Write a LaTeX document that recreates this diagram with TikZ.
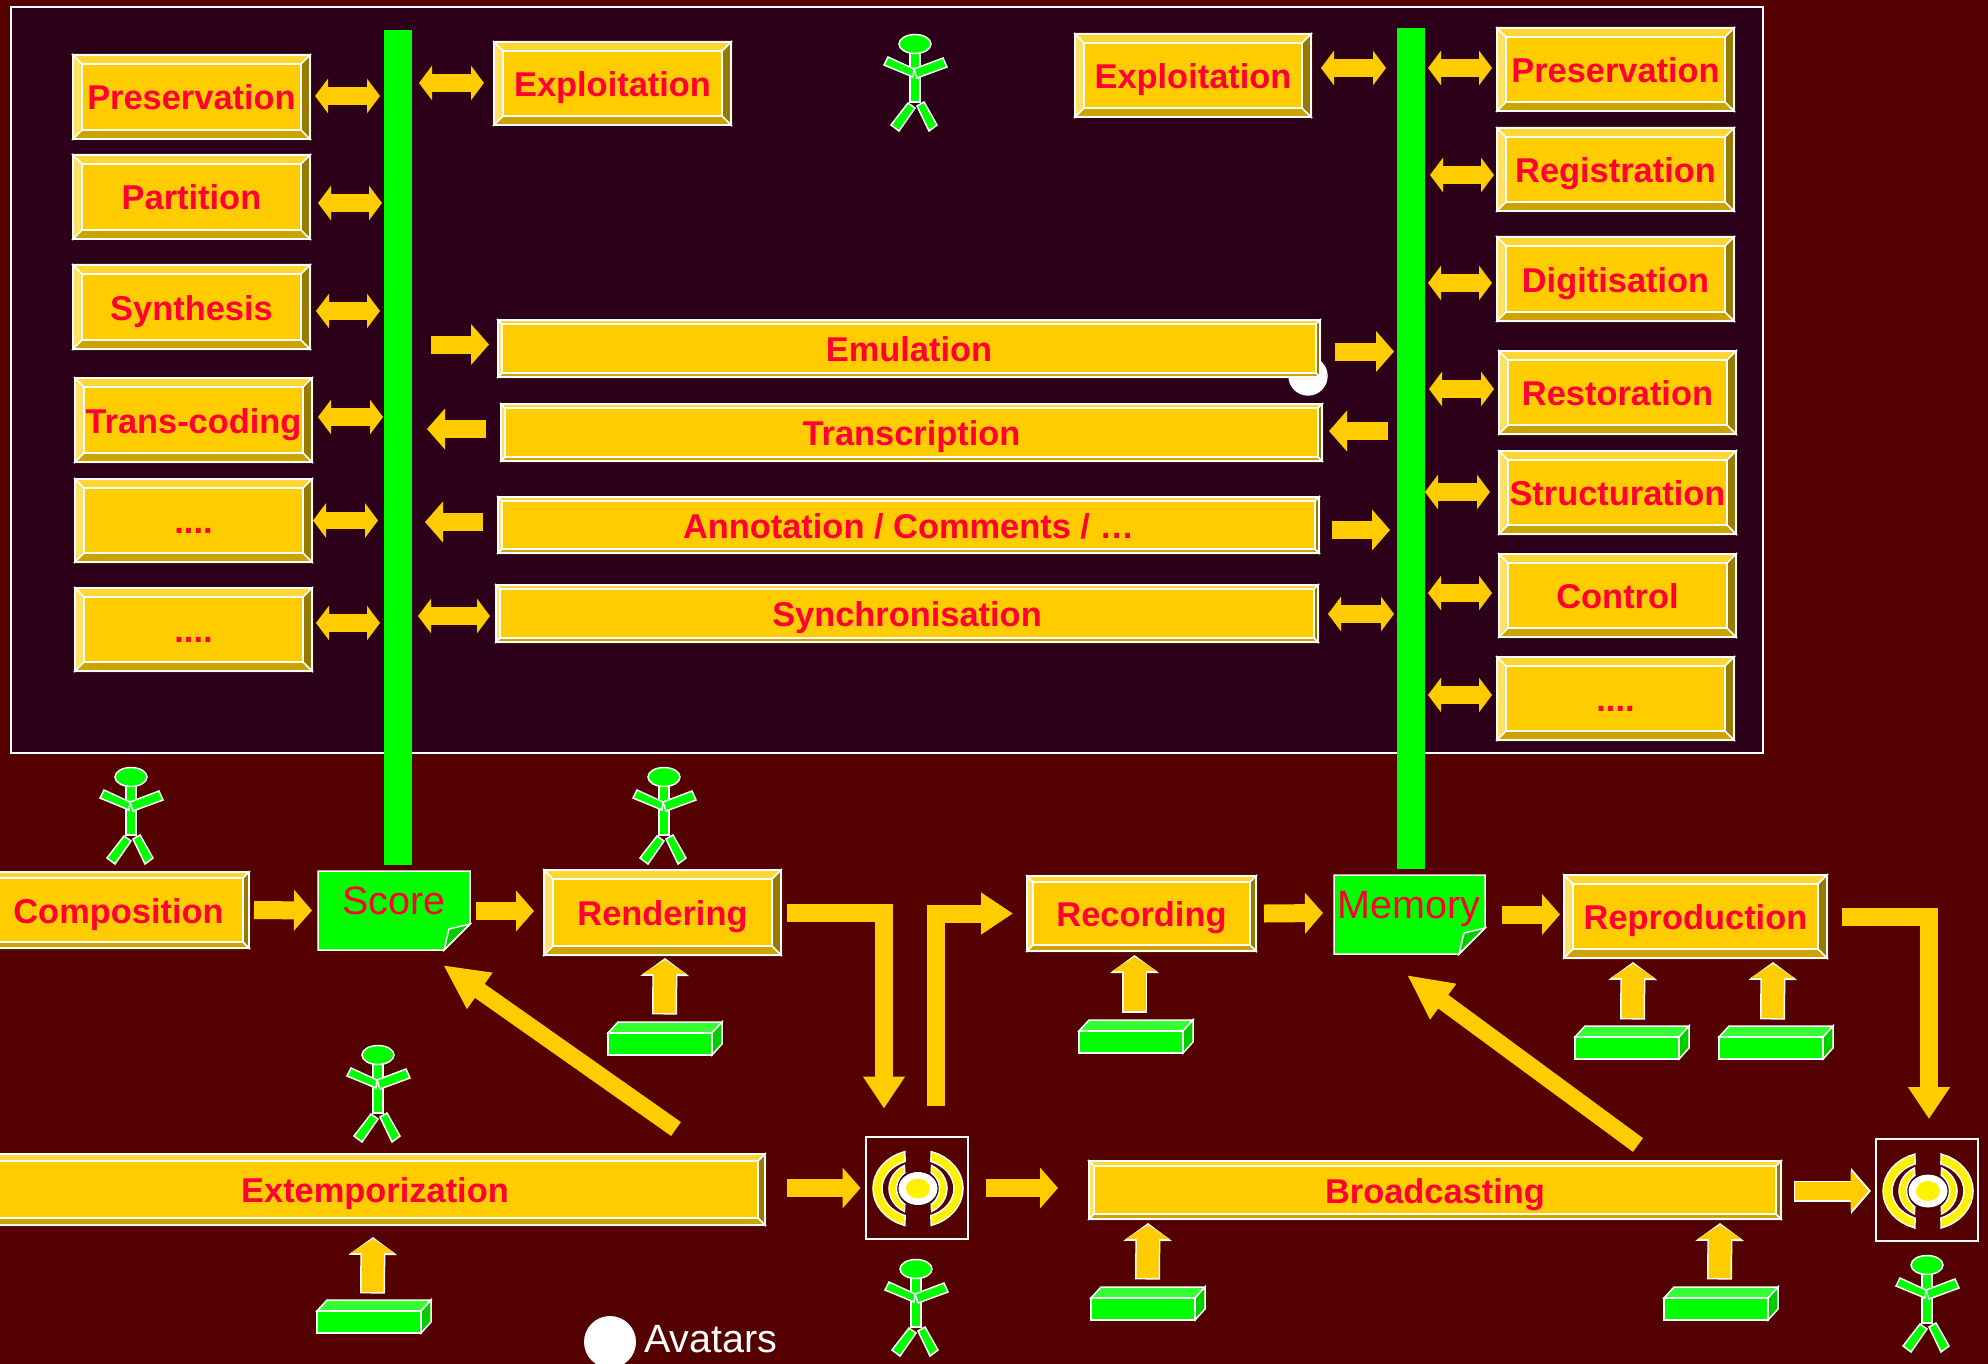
\documentclass[tikz,border=0pt]{standalone}
\usepackage{fontspec}
\setmainfont{Liberation Sans}
\usetikzlibrary{arrows.meta}
\usetikzlibrary{positioning}

\definecolor{bgred}{HTML}{540000}
\definecolor{panelbg}{HTML}{2D0019}
\definecolor{gold}{HTML}{FFCC00}
\definecolor{goldtop}{HTML}{FFD633}
\definecolor{goldleft}{HTML}{FFE066}
\definecolor{goldright}{HTML}{997A00}
\definecolor{goldlow}{HTML}{CCA300}
\definecolor{txtred}{HTML}{FF0033}
\definecolor{limeg}{HTML}{00FF00}
\definecolor{limetop}{HTML}{33FF33}
\definecolor{limedark}{HTML}{00CC00}

\tikzset{
  boxlabel/.style={inner sep=0pt,outer sep=0pt,text=txtred,text height=26pt,text depth=0pt,
    font=\fontsize{34.4pt}{36pt}\selectfont\bfseries},
  notelabel/.style={inner sep=0pt,text=txtred,font=\fontsize{39.5pt}{41pt}\selectfont},
  thinwhite/.style={draw=white,line width=1.5pt,line join=miter},
  singlearrow/.style={draw=gold,line width=18pt,-{Triangle[length=18pt,width=40pt]}},
  biarrow/.style={draw=gold,line width=17.5pt,{Triangle[length=13pt,width=34pt]}-{Triangle[length=13pt,width=34pt]}},
  elbowarrow/.style={draw=gold,line width=18pt,line join=miter,-{Triangle[length=32pt,width=40pt]}},
  diagarrow/.style={draw=gold,line width=17pt,-{Triangle[length=45pt,width=41pt]}},
  uparrow/.style={preaction={draw=white,line width=25pt,shorten <=-1.5pt,shorten >=-2pt,-{Triangle[length=18pt,width=48pt]}},
    draw=gold,line width=22pt,-{Triangle[length=14pt,width=44pt]}},
  sidearrow/.style={preaction={draw=white,line width=21pt,shorten <=-1.5pt,shorten >=-2.5pt,-{Triangle[length=20pt,width=45pt]}},
    draw=gold,line width=18pt,-{Triangle[length=18pt,width=40pt]}},
  stickman/.pic={
    \filldraw[thinwhite,fill=limeg] (-5,9) rectangle (5,58);
    \filldraw[thinwhite,fill=limeg] (-27,13) -- (-31,21) -- (-2,33) -- (-1,25) -- cycle;
    \filldraw[thinwhite,fill=limeg] (28,14) -- (32,23) -- (2,34) -- (-1,25) -- cycle;
    \filldraw[thinwhite,fill=limeg] (-7,59) -- (0,64) -- (-16,87) -- (-24,81) -- cycle;
    \filldraw[thinwhite,fill=limeg] (2,62) -- (9,58) -- (22,81) -- (14,87) -- cycle;
    \filldraw[thinwhite,fill=limeg] (0,0) ellipse [x radius=16,y radius=9.5];
  },
  soundwaves/.pic={
    \filldraw[draw=white,line width=1pt,fill=white] (1.5,1) ellipse [x radius=19,y radius=16];
    \draw[panelbg,line width=.8pt] (1.5,1) ellipse [x radius=20.5,y radius=17.5];
    \fill[yellow] (1.5,1) ellipse [x radius=12,y radius=10];
    \foreach \s in {1,-1}{
      \filldraw[thinwhite,fill=yellow,xshift=1.5pt,yshift=-1pt] plot[domain=107:253,samples=17] ({\s*45*cos(\x)},{38.6*sin(\x)})
        -- plot[domain=249:111,samples=17] ({\s*36*cos(\x)},{29*sin(\x)}) -- cycle;
      \filldraw[thinwhite,fill=yellow,xshift=1.5pt,yshift=-1pt] plot[domain=118:242,samples=13] ({\s*29*cos(\x)},{26*sin(\x)})
        -- plot[domain=232:128,samples=13] ({\s*21.5*cos(\x)},{20*sin(\x)}) -- cycle;
    }
  },
}

% #1 bevel, #2 name, #3-#6 corners, #7 text
\newcommand\bevelbox[7][10]{%
  \fill[gold] (#3,#4) rectangle (#5,#6);
  \fill[goldtop] (#3,#4) -- (#5,#4) -- (#5-#1,#4+#1) -- (#3+#1,#4+#1) -- cycle;
  \fill[goldleft] (#3,#4) -- (#3,#6) -- (#3+#1,#6-#1) -- (#3+#1,#4+#1) -- cycle;
  \fill[goldright] (#5,#4) -- (#5,#6) -- (#5-#1,#6-#1) -- (#5-#1,#4+#1) -- cycle;
  \fill[goldlow] (#3,#6) -- (#5,#6) -- (#5-#1,#6-#1) -- (#3+#1,#6-#1) -- cycle;
  \draw[thinwhite] (#3+#1,#4+#1) rectangle (#5-#1,#6-#1);
  \draw[thinwhite,line width=2pt] (#3+1,#4+1) rectangle (#5-1,#6-1);
  \draw[thinwhite] (#3,#4) -- (#3+#1,#4+#1) (#5,#4) -- (#5-#1,#4+#1) (#3,#6) -- (#3+#1,#6-#1) (#5,#6) -- (#5-#1,#6-#1);
  \node[boxlabel,minimum width={(#5-#3)*1pt},minimum height={(#6-#4)*1pt}] (#2) at ({(#3+#5)/2},{(#4+#6)/2}) {#7};
}

% name, corners
\newcommand\notepage[5]{%
  \filldraw[thinwhite,fill=limeg] (#2,#3) -- (#4,#3) -- (#4,#5-26) -- (#4-26,#5) -- (#2,#5) -- cycle;
  \filldraw[thinwhite,fill=limedark] (#4,#5-26) -- (#4-21,#5-21) -- (#4-26,#5) -- cycle;
  \node[inner sep=0pt,outer sep=0pt,minimum width={(#4-#2)*1pt},minimum height={(#5-#3)*1pt}] (#1) at ({(#2+#4)/2},{(#3+#5)/2}) {};
}

% name, left, top of the front face
\newcommand\brickblock[3]{%
  \filldraw[thinwhite,fill=limetop] (#2,#3) -- (#2+10,#3-11) -- (#2+114,#3-11) -- (#2+104,#3) -- cycle;
  \filldraw[thinwhite,fill=limedark] (#2+104,#3) -- (#2+114,#3-11) -- (#2+114,#3+11) -- (#2+104,#3+22) -- cycle;
  \node[thinwhite,fill=limeg,inner sep=0pt,outer sep=0pt,minimum width=104pt,minimum height=22pt] (#1) at (#2+52,#3+11) {};
}

\begin{document}
\begin{tikzpicture}[x=1pt,y=-1pt]
\path[use as bounding box] (0,0) rectangle (1988,1364);
\clip (0,0) rectangle (1988,1364);
\fill[bgred] (0,0) rectangle (1988,1364);

% Panel and the two bars
\filldraw[thinwhite,line width=2pt,fill=panelbg] (11,7) rectangle (1763,753);
\node[fill=limeg,inner sep=0pt,outer sep=0pt,minimum width=28pt,minimum height=835pt] (barL) at (398,447.5) {};
\node[fill=limeg,inner sep=0pt,outer sep=0pt,minimum width=28pt,minimum height=841pt] (barR) at (1411,448.5) {};

% Avatars
\fill[white] (1308,376) circle (19.7);
\node[circle,fill=white,inner sep=0pt,minimum size=52pt] (avatarDot) at (610,1342) {};
\node[anchor=base west,inner sep=0pt,text=white,font=\fontsize{39.5pt}{41pt}\selectfont] (avatarTxt) at (644,1352) {Avatars};

% Left column
\bevelbox{presL}{72}{54}{311}{140}{Preservation}
\bevelbox{partL}{72}{154}{311}{240}{Partition}
\bevelbox{synthL}{72}{264}{311}{350}{Synthesis}
\bevelbox{transL}{74}{377}{313}{463}{Trans-coding}
\bevelbox{dotsA}{74}{478}{313}{563}{....}
\bevelbox{dotsB}{74}{587}{313}{672}{....}

% Right column
\bevelbox{explL}{493}{41}{732}{126}{Exploitation}
\bevelbox{explR}{1074}{33}{1312}{118}{Exploitation}
\bevelbox{presR}{1496}{27}{1735}{112}{Preservation}
\bevelbox{regR}{1496}{127}{1735}{212}{Registration}
\bevelbox{digR}{1496}{236}{1735}{322}{Digitisation}
\bevelbox{restR}{1498}{350}{1737}{435}{Restoration}
\bevelbox{structR}{1498}{450}{1737}{535}{Structuration}
\bevelbox{ctrlR}{1498}{553}{1737}{638}{Control}
\bevelbox{dotsR}{1496}{656}{1735}{741}{....}

% Long boxes
\bevelbox[5]{emuB}{497}{319}{1321}{378}{Emulation}
\bevelbox[5]{tranB}{500}{403}{1323}{462}{Transcription}
\bevelbox[5]{annB}{497}{496}{1320}{554}{Annotation / Comments / …}
\bevelbox[5]{syncB}{495}{584}{1319}{643}{Synchronisation}

% Lower row
\bevelbox[7]{comp}{-13}{871}{250}{949}{Composition}
\bevelbox{rend}{543}{869}{782}{956}{Rendering}
\bevelbox[7]{recd}{1026}{875}{1257}{952}{Recording}
\bevelbox{repr}{1563}{874}{1828}{959}{Reproduction}
\bevelbox[8]{extm}{-16}{1153}{766}{1226}{Extemporization}
\bevelbox[6]{brdc}{1088}{1160}{1782}{1220}{Broadcasting}
\notepage{score}{318}{871}{470}{950}
\notepage{memory}{1334}{875}{1485}{954}

% Sound boxes
\node[draw=white,line width=2pt,inner sep=0pt,outer sep=0pt,minimum size=102pt] (spkA) at (916.5,1187.5) {};
\pic at (spkA.center) {soundwaves};
\node[draw=white,line width=2pt,inner sep=0pt,outer sep=0pt,minimum size=102pt] (spkB) at (1926.5,1190) {};
\pic at (spkB.center) {soundwaves};

% Figures
\foreach \p in {(915,44),(131,777),(664,777),(378,1055),(916,1269),(1927,1265)}
  \pic at \p {stickman};

% Bricks
\brickblock{brkA}{608}{1033}
\brickblock{brkB}{1079}{1031}
\brickblock{brkC}{1575}{1037}
\brickblock{brkD}{1719}{1037}
\brickblock{brkE}{317}{1311}
\brickblock{brkF}{1091}{1298}
\brickblock{brkG}{1664}{1298}

% Arrows of the left bar
\foreach \n/\a/\b/\g in {presL/4/-1/4,partL/7/6/2,synthL/5/4/4,transL/5/-3/1,dotsA/0/0/6,dotsB/3/-6.5/4}
  \draw[biarrow] ([shift={(\a,\b)}]\n.east) -- ([shift={(-\g,\b)}]\n.east -| barL.west);
\draw[biarrow] ([shift={(-74,-.5)}]explL.west) -- ([shift={(-9,-.5)}]explL.west);
\draw[biarrow] ([shift={(-77,2.5)}]syncB.west) -- ([shift={(-5,2.5)}]syncB.west);
\draw[singlearrow] ([shift={(-66,-4)}]emuB.west) -- ([shift={(-8,-4)}]emuB.west);
\draw[singlearrow] ([shift={(-14,-3.5)}]tranB.west) -- ([shift={(-73,-3.5)}]tranB.west);
\draw[singlearrow] ([shift={(-14,-3)}]annB.west) -- ([shift={(-72,-3)}]annB.west);

% Arrows of the right bar
\foreach \n/\a/\b/\g in {presR/-4/-1.5/3,regR/-2/5.5/5,digR/-4/4/3,restR/-4/-3.5/4,structR/-8/-.5/0,ctrlR/-6/-2.5/3,dotsR/-4/-3.5/3}
  \draw[biarrow] ([shift={(\a,\b)}]\n.west) -- ([shift={(\g,\b)}]\n.west -| barR.east);
\draw[biarrow] ([shift={(9,-7.5)}]explR.east) -- ([shift={(74,-7.5)}]explR.east);
\draw[biarrow] ([shift={(9,.5)}]syncB.east) -- ([shift={(75,.5)}]syncB.east);
\draw[singlearrow] ([shift={(14,3)}]emuB.east) -- ([shift={(73,3)}]emuB.east);
\draw[singlearrow] ([shift={(65,-1.5)}]tranB.east) -- ([shift={(6,-1.5)}]tranB.east);
\draw[singlearrow] ([shift={(12,5)}]annB.east) -- ([shift={(70,5)}]annB.east);

% Arrows of the lower rows
\draw[singlearrow] ([shift={(4,0)}]comp.east) -- ([shift={(-6,0)}]score.west);
\draw[singlearrow] ([shift={(6,.5)}]score.east) -- ([shift={(-9,-1.5)}]rend.west);
\draw[singlearrow] ([shift={(7,0)}]recd.east) -- ([shift={(-11,-1.5)}]memory.west);
\draw[singlearrow] ([shift={(17,0)}]memory.east) -- ([shift={(-3,-2)}]repr.west);
\draw[singlearrow] ([shift={(21,-1.5)}]extm.east) -- ([shift={(-5,.5)}]spkA.west);
\draw[singlearrow] ([shift={(18,.5)}]spkA.east) -- ([shift={(-30,-2)}]brdc.west);
\draw[sidearrow] ([shift={(13,1)}]brdc.east) -- ([shift={(-7,1)}]spkB.west);

\draw[elbowarrow] ([shift={(5,0)}]rend.east) -| ([shift={(-32.5,-28)}]spkA.north);
\draw[elbowarrow] ([shift={(19.5,-31)}]spkA.north) |- ([shift={(-13,0)}]recd.west);
\draw[elbowarrow] ([shift={(14,0)}]repr.east) -| ([shift={(2.5,-20)}]spkB.north);

\draw[diagarrow] ([shift={(301,-24)}]extm.north) -- ([shift={(49,15)}]score.south);
\draw[diagarrow] ([shift={(203,-15)}]brdc.north) -- ([shift={(-2.5,21)}]memory.south);

% Up arrows from the bricks
\draw[uparrow] ([shift={(4.5,-20)}]brkA.north) -- ([shift={(2.5,4)}]rend.south);
\draw[uparrow] ([shift={(3.5,-20)}]brkB.north) -- ([shift={(-7,5)}]recd.south);
\draw[uparrow] ([shift={(5.5,-19)}]brkC.north) -- ([shift={(-62.5,5)}]repr.south);
\draw[uparrow] ([shift={(1.5,-19)}]brkD.north) -- ([shift={(77.5,5)}]repr.south);
\draw[uparrow] ([shift={(3.5,-19)}]brkE.north) -- ([shift={(-2,13)}]extm.south);
\draw[uparrow] ([shift={(4.5,-20)}]brkF.north) -- ([shift={(-287,5)}]brdc.south);
\draw[uparrow] ([shift={(3.5,-20)}]brkG.north) -- ([shift={(285,5)}]brdc.south);

% Note texts
\node[notelabel,anchor=base] (scoreTxt) at (394,914) {Score};
\node[notelabel,anchor=base] (memoryTxt) at (1409,918) {Memory};
\end{tikzpicture}
\end{document}
